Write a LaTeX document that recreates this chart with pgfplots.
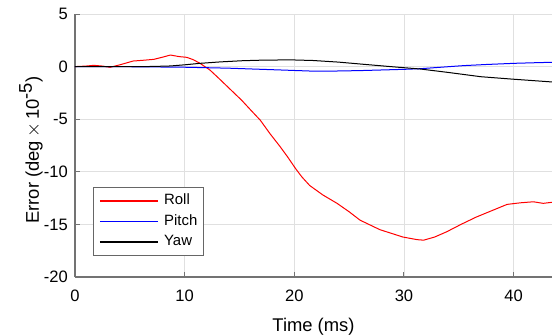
\documentclass[border=0pt]{standalone}
\usepackage{pgfplots}
\pgfplotsset{compat=1.18}
\usepackage{fontspec}
\setmainfont{Liberation Sans}
\begin{document}
\begin{tikzpicture}
\begin{axis}[
  name=ax,
  scale only axis,
  width=357.75pt, height=197.25pt,
  xmin=0, xmax=43.5, ymin=-20, ymax=5,
  xtick={0,10,20,30,40}, ytick={-20,-15,-10,-5,0,5},
  axis x line*=bottom, axis y line*=left,
  axis line style={draw=black!55, line width=0.9pt, -},
  tick style={draw=black!55, line width=0.7pt},
  tick align=inside, major tick length=3.75pt,
  grid=major, grid style={draw=black!12, line width=0.6pt},
  /pgf/number format/assume math mode=true,
  ticklabel style={font=\fontsize{12.4}{14}\selectfont},
  xticklabel style={anchor=base, inner sep=0pt, yshift=-18.5pt},
  yticklabel style={anchor=east, inner sep=0pt, xshift=-5.25pt},
  xlabel={Time (ms)}, ylabel={Error (deg\,$\times$\,10$^{\textrm{-5}}$)},
  label style={font=\fontsize{13.8}{16}\selectfont},
  xlabel style={at={(rel axis cs:0.5,-0.208)}, anchor=base, inner sep=0pt},
  ylabel style={at={(rel axis cs:-0.0922,0.483)}, anchor=center, inner sep=0pt},
  legend style={at={(rel axis cs:0.037,0.08)}, anchor=south west,
    draw=black!60, line width=0.6pt, font=\fontsize{11.2}{13}\selectfont,
    nodes={inner sep=0pt, text height=8pt, text depth=2.4pt},
    row sep=5pt, column sep=3.7pt, inner xsep=4.5pt, inner ysep=5pt},
  legend cell align=left,
  legend image code/.code={\draw[#1, line width=1.3pt] (0pt,0pt) -- (43.8pt,0pt);},
]
\addplot[draw=red, line width=0.75pt] coordinates {
(0,0) (1,0.05) (1.7,0.12) (2.5,0.05) (3.2,-0.07) (4.2,0.2) (5.3,0.53) (6.2,0.6) (7.2,0.69) (8,0.9) (8.7,1.1) (9.5,0.95) (10.2,0.88) (10.8,0.65) (11.4,0.31) (12.3,-0.32) (13.1,-1.1) (13.9,-1.9) (15.2,-3.2) (16.0,-4.1) (16.9,-5.1) (17.8,-6.4) (18.7,-7.6) (19.4,-8.6) (20.1,-9.67) (20.7,-10.5) (21.4,-11.3) (22.6,-12.2) (23.9,-13.0) (25,-13.8) (26,-14.6) (27,-15.1) (27.8,-15.5) (29,-15.9) (29.9,-16.2) (31.2,-16.45) (31.8,-16.5) (32.8,-16.2) (33.9,-15.7) (35.2,-15.0) (36.6,-14.3) (38,-13.7) (39.4,-13.1) (40.6,-12.95) (41.8,-12.85) (42.7,-13.0) (43.5,-12.9)
};
\addlegendentry{Roll}
\addplot[draw=blue, line width=0.75pt] coordinates {
(0,0) (3,0.0) (6,-0.02) (10,-0.06) (14,-0.15) (18.7,-0.32) (21.4,-0.42) (23.3,-0.43) (26,-0.38) (28,-0.32) (30,-0.26) (31.5,-0.2) (33.5,-0.05) (35.4,0.09) (37.5,0.2) (40,0.31) (42,0.37) (43.5,0.41)
};
\addlegendentry{Pitch}
\addplot[draw=black, line width=0.75pt] coordinates {
(0,0) (4,0) (7,0.01) (8.7,0.06) (10,0.17) (11.4,0.31) (13.3,0.45) (15.3,0.56) (17,0.61) (18.7,0.63) (20,0.63) (21.7,0.58) (24,0.43) (26.3,0.22) (29,-0.02) (31.5,-0.23) (34,-0.55) (37,-0.96) (40,-1.2) (43.5,-1.46)
};
\addlegendentry{Yaw}
\end{axis}
\pgfresetboundingbox
\path[use as bounding box] ([xshift=-56.25pt,yshift=-43.5pt]ax.south west) rectangle ([yshift=10.5pt]ax.north east);
\end{tikzpicture}
\end{document}
